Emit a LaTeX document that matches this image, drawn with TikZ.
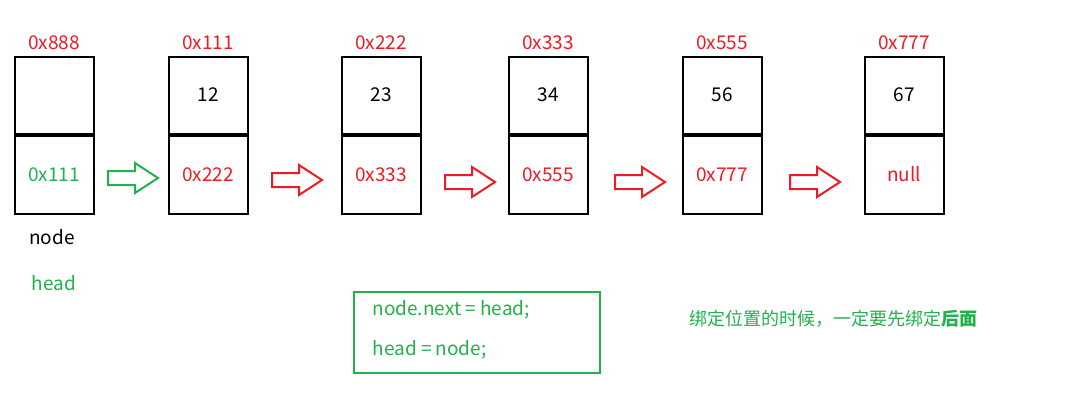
\documentclass[tikz,border=0pt]{standalone}
\usepackage{fontspec}
\setmainfont{Noto Sans CJK SC}
\usetikzlibrary{positioning}
\definecolor{grn}{RGB}{34,177,76}
\definecolor{rd}{RGB}{237,28,36}
\tikzset{
  cell/.style={draw, line width=2pt, minimum width=79pt, inner sep=0pt},
  addr/.style={text=rd, font=\fontsize{19}{22}\selectfont},
  val/.style={font=\fontsize{19}{22}\selectfont},
}
\newcommand*{\blockarrow}[3]{% x, y, colour
  \draw[#3, line width=2pt] (#1,#2-7) -- ++(27,0) -- ++(0,-8) -- ++(23,15)
    -- ++(-23,15) -- ++(0,-8) -- ++(-27,0) -- cycle;}
\begin{document}
\begin{tikzpicture}[x=1pt,y=-1pt]
\useasboundingbox (0,0) rectangle (1085,400);

%% boxes
\foreach \n/\x/\t/\v/\nx/\c in {1/54/0x888//0x111/grn, 2/208/0x111/12/0x222/rd,
  3/381/0x222/23/0x333/rd, 4/548/0x333/34/0x555/rd, 5/722/0x555/56/0x777/rd,
  6/904/0x777/67/null/rd}
  {
  \node [cell, minimum height=77pt] (top\n) at (\x,95) {};
  \node [cell, minimum height=78pt, below=0pt of top\n] (bot\n) {};
  \node [addr, above=2pt of top\n] (a\n) {\t};
  \node [val] (v\n) at (top\n) {\v};
  \node [val, text=\c] (p\n) at (bot\n) {\nx};
  }

%% arrows
\blockarrow{108}{178}{grn}
\blockarrow{272}{180}{rd}
\blockarrow{445}{182}{rd}
\blockarrow{615}{182}{rd}
\blockarrow{790}{182}{rd}

\node [val] (nd) at (52,237) {node};
\node [val, text=grn] (hd) at (54,283) {head};

\node [draw=grn, line width=2pt, minimum width=246pt, minimum height=81pt] (code) at (477,332) {};
\node [val, text=grn, anchor=west] (c1) at (369,310) {node.next = head;};
\node [val, text=grn, anchor=west] (c2) at (369,350) {head = node;};

\node [text=grn, anchor=west, font=\fontsize{18}{22}\selectfont] (note) at (686,319)
  {绑定位置的时候，一定要先绑定\textbf{后面}};
\end{tikzpicture}
\end{document}
